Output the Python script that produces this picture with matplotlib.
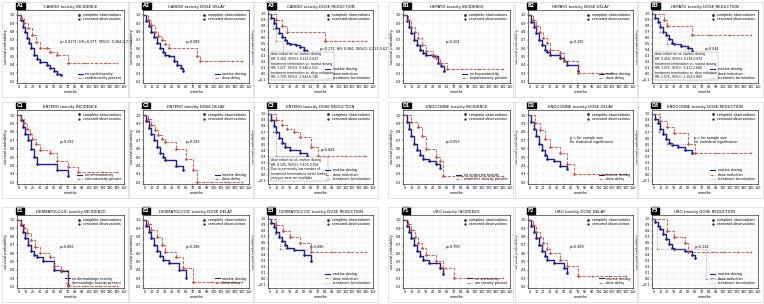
import matplotlib
matplotlib.use("Agg")
import matplotlib.pyplot as plt
from matplotlib.patches import Rectangle

# ---- data (months, survival probability) ----
# each curve: (event times, survival after event), censored tail times
A1_blue = ([0, 3, 6, 9, 12, 15, 18, 22, 26, 30, 40, 45, 50, 55, 60], [1.0, 0.94, 0.86, 0.8, 0.72, 0.66, 0.6, 0.52, 0.47, 0.43, 0.4, 0.36, 0.32, 0.29, 0.28])
A1_red = ([0, 4, 8, 14, 20, 25, 30, 40, 45, 55, 70], [1.0, 0.96, 0.9, 0.84, 0.76, 0.68, 0.6, 0.6, 0.55, 0.52, 0.42])
A1_cens = [80, 95, 110, 125, 140]

A2_blue = ([0, 3, 6, 10, 14, 18, 22, 26, 30, 35, 42, 47, 52, 56], [1.0, 0.93, 0.87, 0.8, 0.73, 0.66, 0.6, 0.55, 0.52, 0.5, 0.45, 0.4, 0.36, 0.33])
A2_red = ([0, 5, 10, 15, 20, 25, 30, 35, 75, 80], [1.0, 0.94, 0.88, 0.8, 0.75, 0.7, 0.65, 0.6, 0.5, 0.45])
A2_cens = [90, 110, 125, 140]

A3_blue = ([0, 3, 6, 10, 14, 18, 22, 26, 30, 38, 45, 50, 55], [1.0, 0.92, 0.84, 0.76, 0.68, 0.62, 0.56, 0.52, 0.5, 0.48, 0.45, 0.4, 0.35])
A3_red = ([0, 10, 18, 25, 80], [1.0, 0.9, 0.8, 0.7, 0.55])
A3_gray = ([0, 5, 10, 20], [1.0, 0.75, 0.55, 0.35])
A3_cens = [95, 120, 140]

B1_blue = ([0, 3, 6, 10, 14, 18, 22, 26, 30, 40, 48, 52, 56], [1.0, 0.93, 0.86, 0.78, 0.7, 0.64, 0.58, 0.54, 0.52, 0.5, 0.42, 0.38, 0.32])
B1_red = ([0, 5, 10, 15, 20, 25, 30, 40, 45, 50, 60], [1.0, 0.94, 0.86, 0.8, 0.72, 0.64, 0.56, 0.52, 0.48, 0.42, 0.35])
B1_cens = [80, 105, 140]

B2_blue = ([0, 3, 6, 10, 14, 18, 22, 26, 30, 45, 50, 55, 70], [1.0, 0.92, 0.85, 0.78, 0.7, 0.64, 0.58, 0.55, 0.52, 0.48, 0.44, 0.4, 0.33])
B2_red = ([0, 5, 10, 15, 20, 25, 30, 45, 50, 70], [1.0, 0.94, 0.87, 0.8, 0.72, 0.66, 0.58, 0.54, 0.45, 0.3])
B2_cens = [90, 105, 120]

B3_blue = ([0, 3, 6, 10, 14, 18, 22, 26, 30, 40, 50, 55], [1.0, 0.93, 0.86, 0.78, 0.7, 0.64, 0.58, 0.52, 0.5, 0.46, 0.43, 0.38])
B3_red = ([0, 15, 20, 55], [1.0, 0.9, 0.8, 0.64])
B3_gray = ([0, 10, 20, 45], [1.0, 0.7, 0.5, 0.3])
B3_cens = [80, 110, 140]

C1_blue = ([0, 3, 6, 10, 14, 18, 22, 26, 55, 70], [1.0, 0.94, 0.86, 0.78, 0.7, 0.6, 0.5, 0.42, 0.35, 0.28])
C1_red = ([0, 4, 8, 12, 16, 20, 25, 30, 45, 55, 70, 85], [1.0, 0.95, 0.9, 0.84, 0.78, 0.72, 0.65, 0.58, 0.55, 0.45, 0.38, 0.32])
C1_cens = [100, 120, 140]

C2_blue = ([0, 3, 6, 10, 14, 18, 22, 26, 30, 45, 55], [1.0, 0.93, 0.85, 0.77, 0.7, 0.62, 0.55, 0.5, 0.47, 0.4, 0.35])
C2_red = ([0, 5, 10, 15, 20, 25, 30, 45, 60, 70, 75], [1.0, 0.95, 0.88, 0.82, 0.76, 0.72, 0.68, 0.6, 0.48, 0.35, 0.2])
C2_cens = [95, 120, 140]

C3_blue = ([0, 3, 6, 10, 14, 18, 22, 30, 45, 55], [1.0, 0.9, 0.8, 0.7, 0.6, 0.52, 0.46, 0.4, 0.35, 0.3])
C3_red = ([0, 10, 18, 25, 35, 45, 60, 70], [1.0, 0.9, 0.82, 0.75, 0.7, 0.62, 0.45, 0.3])
C3_gray = ([0, 5, 10], [1.0, 0.7, 0.3])
C3_cens = [85, 110, 140]

D1_blue = ([0, 3, 6, 10, 14, 18, 22, 26, 35, 45, 50], [1.0, 0.92, 0.84, 0.75, 0.66, 0.58, 0.52, 0.48, 0.45, 0.42, 0.37])
D1_red = ([0, 10, 20, 25, 30, 45, 50, 55], [1.0, 0.92, 0.86, 0.75, 0.6, 0.5, 0.45, 0.28])
D1_cens = [80, 100, 140]

D2_blue = ([0, 3, 6, 10, 14, 18, 22, 26, 35, 45, 55], [1.0, 0.92, 0.84, 0.75, 0.66, 0.58, 0.52, 0.48, 0.45, 0.4, 0.36])
D2_red = ([0, 8, 15, 22, 30, 45, 55, 65], [1.0, 0.9, 0.82, 0.72, 0.62, 0.55, 0.42, 0.3])
D2_cens = [85, 110, 140]

D3_blue = ([0, 3, 6, 10, 14, 18, 22, 26, 35, 45, 55], [1.0, 0.92, 0.84, 0.75, 0.66, 0.58, 0.52, 0.48, 0.45, 0.4, 0.36])
D3_red = ([0, 10, 20, 30, 50, 60], [1.0, 0.88, 0.78, 0.68, 0.5, 0.35])
D3_gray = ([0, 8, 20], [1.0, 0.7, 0.5])
D3_cens = [90, 115, 140]

E1_blue = ([0, 3, 6, 10, 14, 18, 22, 26, 35, 50, 60, 70], [1.0, 0.94, 0.86, 0.78, 0.7, 0.63, 0.58, 0.55, 0.5, 0.4, 0.38, 0.22])
E1_red = ([0, 4, 8, 12, 18, 24, 30, 45, 50, 60, 70], [1.0, 0.95, 0.9, 0.84, 0.76, 0.68, 0.6, 0.55, 0.45, 0.4, 0.2])
E1_cens = [95, 115, 140]

E2_blue = ([0, 3, 6, 10, 14, 18, 22, 26, 35, 50, 60], [1.0, 0.93, 0.86, 0.78, 0.7, 0.63, 0.57, 0.52, 0.48, 0.4, 0.3])
E2_red = ([0, 5, 10, 18, 25, 30, 45, 55, 70], [1.0, 0.95, 0.88, 0.8, 0.7, 0.62, 0.55, 0.42, 0.25])
E2_cens = [95, 120, 140]

E3_blue = ([0, 3, 6, 10, 14, 18, 22, 26, 35, 50, 60], [1.0, 0.93, 0.86, 0.78, 0.7, 0.63, 0.57, 0.52, 0.48, 0.4, 0.3])
E3_red = ([0, 10, 20, 30, 45, 60], [1.0, 0.9, 0.8, 0.7, 0.6, 0.45])
E3_gray = ([0, 8, 15], [1.0, 0.75, 0.5])
E3_cens = [90, 115, 140]

F1_blue = ([0, 3, 6, 10, 14, 18, 22, 26, 35, 50, 55], [1.0, 0.93, 0.86, 0.78, 0.7, 0.63, 0.57, 0.52, 0.48, 0.42, 0.35])
F1_red = ([0, 5, 10, 15, 20, 25, 30, 45, 55, 70], [1.0, 0.95, 0.88, 0.8, 0.72, 0.66, 0.58, 0.5, 0.42, 0.3])
F1_cens = [90, 115, 140]

F2_blue = ([0, 3, 6, 10, 14, 18, 22, 26, 35, 50, 55], [1.0, 0.93, 0.86, 0.78, 0.7, 0.63, 0.57, 0.52, 0.48, 0.42, 0.36])
F2_red = ([0, 5, 10, 15, 20, 25, 30, 45, 55, 70], [1.0, 0.94, 0.86, 0.8, 0.72, 0.65, 0.6, 0.52, 0.45, 0.32])
F2_cens = [90, 115, 140]

F3_blue = ([0, 3, 6, 10, 14, 18, 22, 26, 30, 45, 55, 60], [1.0, 0.94, 0.88, 0.82, 0.75, 0.66, 0.58, 0.52, 0.5, 0.46, 0.4, 0.34])
F3_red = ([0, 20, 30, 45, 50], [1.0, 0.8, 0.7, 0.6, 0.45])
F3_gray = ([0, 5, 75], [1.0, 0.5, 0.0])
F3_cens = [85, 100, 120, 140]

labels = ["A1", "A2", "A3", "C1", "C2", "C3", "E1", "E2", "E3",
          "B1", "B2", "B3", "D1", "D2", "D3", "F1", "F2", "F3"]
titles = ["CARDIO toxicity INCIDENCE", "CARDIO toxicity DOSE DELAY", "CARDIO toxicity DOSE REDUCTION",
          "ENTERO toxicity INCIDENCE", "ENTERO toxicity DOSE DELAY", "ENTERO toxicity DOSE REDUCTION",
          "DERMATOLOGIC toxicity INCIDENCE", "DERMATOLOGIC toxicity DOSE DELAY", "DERMATOLOGIC toxicity DOSE REDUCTION",
          "HEPATO toxicity INCIDENCE", "HEPATO toxicity DOSE DELAY", "HEPATO toxicity DOSE REDUCTION",
          "ENDOCRINE toxicity INCIDENCE", "ENDOCRINE toxicity DOSE DELAY", "ENDOCRINE toxicity DOSE REDUCTION",
          "URO toxicity INCIDENCE", "URO toxicity DOSE DELAY", "URO toxicity DOSE REDUCTION"]
pvals = ["p=0.0171; HR=0.377; 95%CI: 0.364-0.793", "p=0.088", "p=0.272; HR: 0.360; 95%CI: 0.213-0.627",
         "p=0.232", "p=0.193", "p<0.004",
         "p=0.456", "p=0.286", "p=0.086",
         "p=0.204", "p=0.295", "p=0.034",
         "p=0.053", "p = for sample size\nfor statistical significance", "p = for sample size\nfor statistical significance",
         "p=0.709", "p=0.309", "p=0.124"]
group_names = [["no cardiotoxicity", "cardiotoxicity present"], ["routine dosing", "dose delay"],
               ["routine dosing", "dose reduction", "treatment termination"],
               ["no enterotoxicity", "enterotoxicity present"], ["routine dosing", "dose delay"],
               ["routine dosing", "dose reduction", "treatment termination"],
               ["no dermatologic toxicity", "dermatologic toxicity present"], ["routine dosing", "dose delay"],
               ["routine dosing", "dose reduction", "treatment termination"],
               ["no hepatotoxicity", "hepatotoxicity present"], ["routine dosing", "dose delay"],
               ["routine dosing", "dose reduction", "treatment termination"],
               ["no endocrine toxicity", "endocrine toxicity present"], ["routine dosing", "dose delay"],
               ["routine dosing", "dose reduction", "treatment termination"],
               ["no uro toxicity", "uro toxicity present"], ["routine dosing", "dose delay"],
               ["routine dosing", "dose reduction", "treatment termination"]]
curves = [(A1_blue, A1_red, None, A1_cens), (A2_blue, A2_red, None, A2_cens), (A3_blue, A3_red, A3_gray, A3_cens),
          (C1_blue, C1_red, None, C1_cens), (C2_blue, C2_red, None, C2_cens), (C3_blue, C3_red, C3_gray, C3_cens),
          (E1_blue, E1_red, None, E1_cens), (E2_blue, E2_red, None, E2_cens), (E3_blue, E3_red, E3_gray, E3_cens),
          (B1_blue, B1_red, None, B1_cens), (B2_blue, B2_red, None, B2_cens), (B3_blue, B3_red, B3_gray, B3_cens),
          (D1_blue, D1_red, None, D1_cens), (D2_blue, D2_red, None, D2_cens), (D3_blue, D3_red, D3_gray, D3_cens),
          (F1_blue, F1_red, None, F1_cens), (F2_blue, F2_red, None, F2_cens), (F3_blue, F3_red, F3_gray, F3_cens)]
box_text = {2: "dose reduction vs. routine dosing\nHR: 0.360; 95%CI: 0.213-0.627\ntreatment termination vs. routine dosing\nHR: 1.277; 95%CI: 0.648-2.512\ntreatment termination vs. dose reduction\nHR: 3.739; 95%CI: 2.043-6.748",
            5: "dose reduction vs. routine dosing\nHR: 0.545; 95%CI: 0.406-0.905\nDue to extremely low number of\ntreatment terminations (zero) further\nanalysis were not available",
            11: "dose reduction vs. routine dosing\nHR: 0.456; 95%CI: 0.238-0.874\ntreatment termination vs. routine dosing\nHR: 1.075; 95%CI: 0.411-2.848\ntreatment termination vs. dose reduction\nHR: 2.575; 95%CI: 1.154-5.800"}

BLUE = "#1e1e96"
RED = "#dc4638"
GRAY = "#8c8c8c"

col_x = [(17, 124), (143, 249), (268, 373), (403, 510), (528, 633), (652, 758)]
row_y = [(10, 83), (110, 184), (215, 288)]

W, H = 764, 304
fig = plt.figure(figsize=(7.64, 3.04), dpi=100)
fig.patch.set_facecolor("white")


def km(ax, data, color, ls, marker, lw):
    t, s = data
    ax.step(t, s, where="post", color=color, ls=ls, lw=lw)
    ax.plot(t[1:], s[1:], ls="none", marker=marker, ms=1.3, mew=0.5, color=color)


for i in range(18):
    grp = i // 9
    r = (i % 9) // 3
    c = (i % 3) + 3 * grp
    x0, x1 = col_x[c]
    y0, y1 = row_y[r]
    # light panel frame
    fig.patches.append(Rectangle(((x0 - 15) / W, 1 - (y1 + 14) / H), (x1 - x0 + 20) / W, (y1 - y0 + 22) / H,
                                 transform=fig.transFigure, fill=False, ec="#d8d8d8", lw=0.5))
    ax = fig.add_axes([x0 / W, 1 - y1 / H, (x1 - x0) / W, (y1 - y0) / H])
    blue, red, gray, cens = curves[i]
    km(ax, blue, BLUE, "-", "o", 1.0)
    km(ax, red, RED, "--", "o", 0.6)
    tail = max(cens)
    ax.plot([red[0][-1], tail], [red[1][-1], red[1][-1]], color=RED, ls="--", lw=0.6)
    ax.plot(cens, [red[1][-1]] * len(cens), ls="none", marker="+", ms=1.8, mew=0.4, color=RED)
    if gray is not None:
        km(ax, gray, GRAY, ":", "+", 0.6)
        ax.plot([gray[0][-1], gray[0][-1] + 40], [gray[1][-1]] * 2, color=GRAY, ls=":", lw=0.6)
    three = gray is not None
    ax.set_xlim(-2, 150)
    ax.set_xticks(range(0, 151, 10))
    if three:
        ax.set_ylim(-0.15, 1.06)
        ax.set_yticks([round(-0.1 + 0.1 * k, 1) for k in range(12)])
    else:
        ax.set_ylim(0.18, 1.06)
        ax.set_yticks([round(0.2 + 0.1 * k, 1) for k in range(9)])
    ax.tick_params(labelsize=2.4, length=1, width=0.3, pad=0.6)
    ax.grid(color="#e4e4e4", lw=0.3)
    for sp in ax.spines.values():
        sp.set_linewidth(0.4)
    ax.set_xlabel("months", fontsize=2.6, labelpad=0.8)
    ax.set_ylabel("survival probability", fontsize=2.6, labelpad=0.8)
    ax.set_title(titles[i], fontsize=2.8, pad=1.5)
    ax.text(0.0, 1.03, labels[i], transform=ax.transAxes, fontsize=3.4, color="white", weight="bold",
            va="bottom", ha="left", bbox=dict(boxstyle="square,pad=0.15", fc="black", ec="black"))
    # legends
    ax.plot([], [], ls="none", marker="o", ms=1.0, color="#333333", label="complete observations")
    ax.plot([], [], ls="none", marker="+", ms=1.5, color="#333333", label="censored observations")
    leg1 = ax.legend(loc="upper right", fontsize=2.4, frameon=False, handlelength=0.8, borderpad=0.3, labelspacing=0.2)
    ax.add_artist(leg1)
    hs = [plt.Line2D([], [], color=BLUE, lw=0.8), plt.Line2D([], [], color=RED, lw=0.6, ls="--")]
    if three:
        hs.append(plt.Line2D([], [], color=GRAY, lw=0.6, ls=":"))
    ax.legend(hs, group_names[i], loc="lower right", fontsize=2.4, frameon=False, handlelength=1.5,
              borderpad=0.3, labelspacing=0.2)
    if i in box_text:
        ax.text(0.03, 0.05, box_text[i], transform=ax.transAxes, fontsize=2.2, va="bottom", ha="left",
                bbox=dict(fc="white", ec="#888888", lw=0.3, pad=0.5))
        ax.text(0.5, 0.45, pvals[i], transform=ax.transAxes, fontsize=2.4)
    else:
        ax.text(0.4, 0.55, pvals[i], transform=ax.transAxes, fontsize=2.4)

fig.savefig("out.png", dpi=100)
